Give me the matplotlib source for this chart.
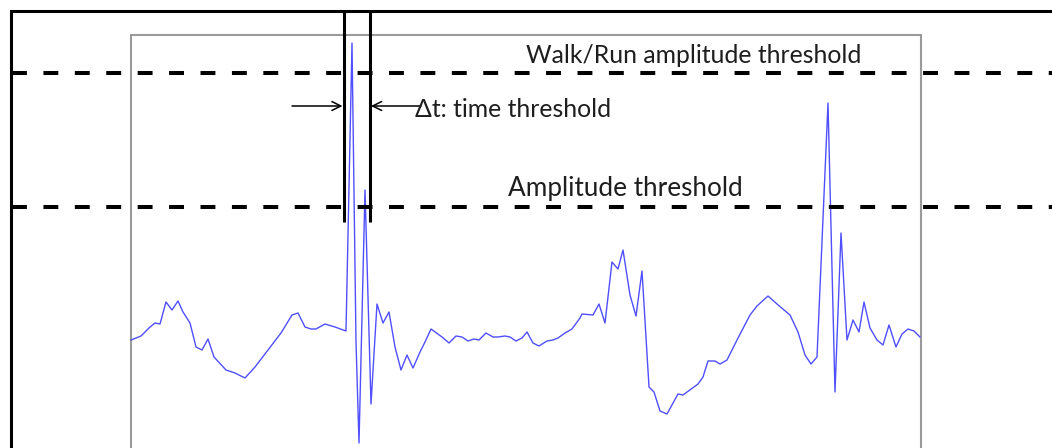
import matplotlib.pyplot as plt
from matplotlib.patches import Rectangle

# accelerometer trace (time, amplitude)
t = [131, 141, 150, 155, 160, 166, 172, 178, 183, 190, 196, 202, 208, 214, 226, 235,
     245, 255, 268, 281, 292, 298, 305, 311, 316, 325, 335, 346, 352, 356, 359, 365,
     371, 377, 383, 389, 395, 401, 407, 413, 420, 425, 431, 442, 449, 456, 462, 468,
     474, 479, 486, 493, 498, 505, 510, 516, 522, 527, 533, 539, 547, 553, 558, 565,
     572, 580, 582, 593, 599, 605, 612, 618, 623, 630, 636, 642, 649, 654, 660, 667,
     678, 683, 698, 703, 708, 715, 720, 727, 737, 750, 757, 768, 777, 790, 798, 805,
     811, 817, 828, 835, 841, 847, 853, 859, 864, 870, 877, 883, 889, 896, 902, 908,
     914, 920]
acc = [108, 112, 121, 125, 124, 146, 138, 147, 136, 125, 101, 98, 109, 91, 78, 75,
       70, 81, 98, 115, 133, 135, 121, 119, 119, 124, 121, 117, 405, 106, 5, 258,
       44, 144, 125, 136, 101, 78, 93, 80, 96, 106, 119, 111, 105, 112, 111, 107,
       109, 108, 115, 111, 111, 112, 111, 107, 110, 116, 105, 102, 107, 108, 110, 115,
       119, 130, 134, 133, 144, 125, 186, 179, 198, 153, 132, 177, 61, 56, 37, 34,
       54, 53, 64, 71, 87, 87, 84, 88, 108, 133, 142, 152, 144, 133, 116, 93,
       84, 91, 345, 56, 215, 108, 128, 116, 146, 120, 108, 103, 123, 101, 114, 119,
       117, 111]

walk_run_threshold = 375
amp_threshold = 241
window = [344, 369.5]

labels = ["Walk/Run amplitude threshold", "\u0394t: time threshold", "Amplitude threshold"]

plt.rcParams['font.family'] = ['Lato', 'DejaVu Sans']

fig = plt.figure(figsize=(10.52, 4.48), dpi=100)
ax = fig.add_axes([0, 0, 1, 1])
ax.set_xlim(0, 1052)
ax.set_ylim(0, 448)
ax.axis('off')

# frames
ax.add_patch(Rectangle((10.5, -20), 1100, 457.5, fill=False, ec='black', lw=2.2))
ax.add_patch(Rectangle((131.3, -20), 921 - 131.3, 433, fill=False, ec='#9a9a9a', lw=1.5))

ax.plot(t, acc, color='#4f4fff', lw=1.0)

dash = (0, (3.7, 4.1))
for th in [walk_run_threshold, amp_threshold]:
    ax.plot([12, 1060], [th, th], color='black', lw=2.9, linestyle=dash,
            solid_capstyle='butt', dash_capstyle='butt')

for x in window:
    ax.plot([x, x], [437.5, 226], color='black', lw=2.2, solid_capstyle='butt')

ax.annotate('', xy=(342.5, 342), xytext=(292, 342),
            arrowprops=dict(arrowstyle='->', lw=1.1, color='black',
                            shrinkA=0, shrinkB=0, mutation_scale=16))
ax.annotate('', xy=(371, 342), xytext=(421, 342),
            arrowprops=dict(arrowstyle='->', lw=1.1, color='black',
                            shrinkA=0, shrinkB=0, mutation_scale=16))

style = dict(color='#1e1e1e', va='baseline')
ax.text(526, 385, labels[0], fontsize=17.8, **style)
ax.text(415, 331, labels[1], fontsize=17.8, **style)
ax.text(508, 252, labels[2], fontsize=18.8, **style)

fig.savefig('out.png', dpi=100)
